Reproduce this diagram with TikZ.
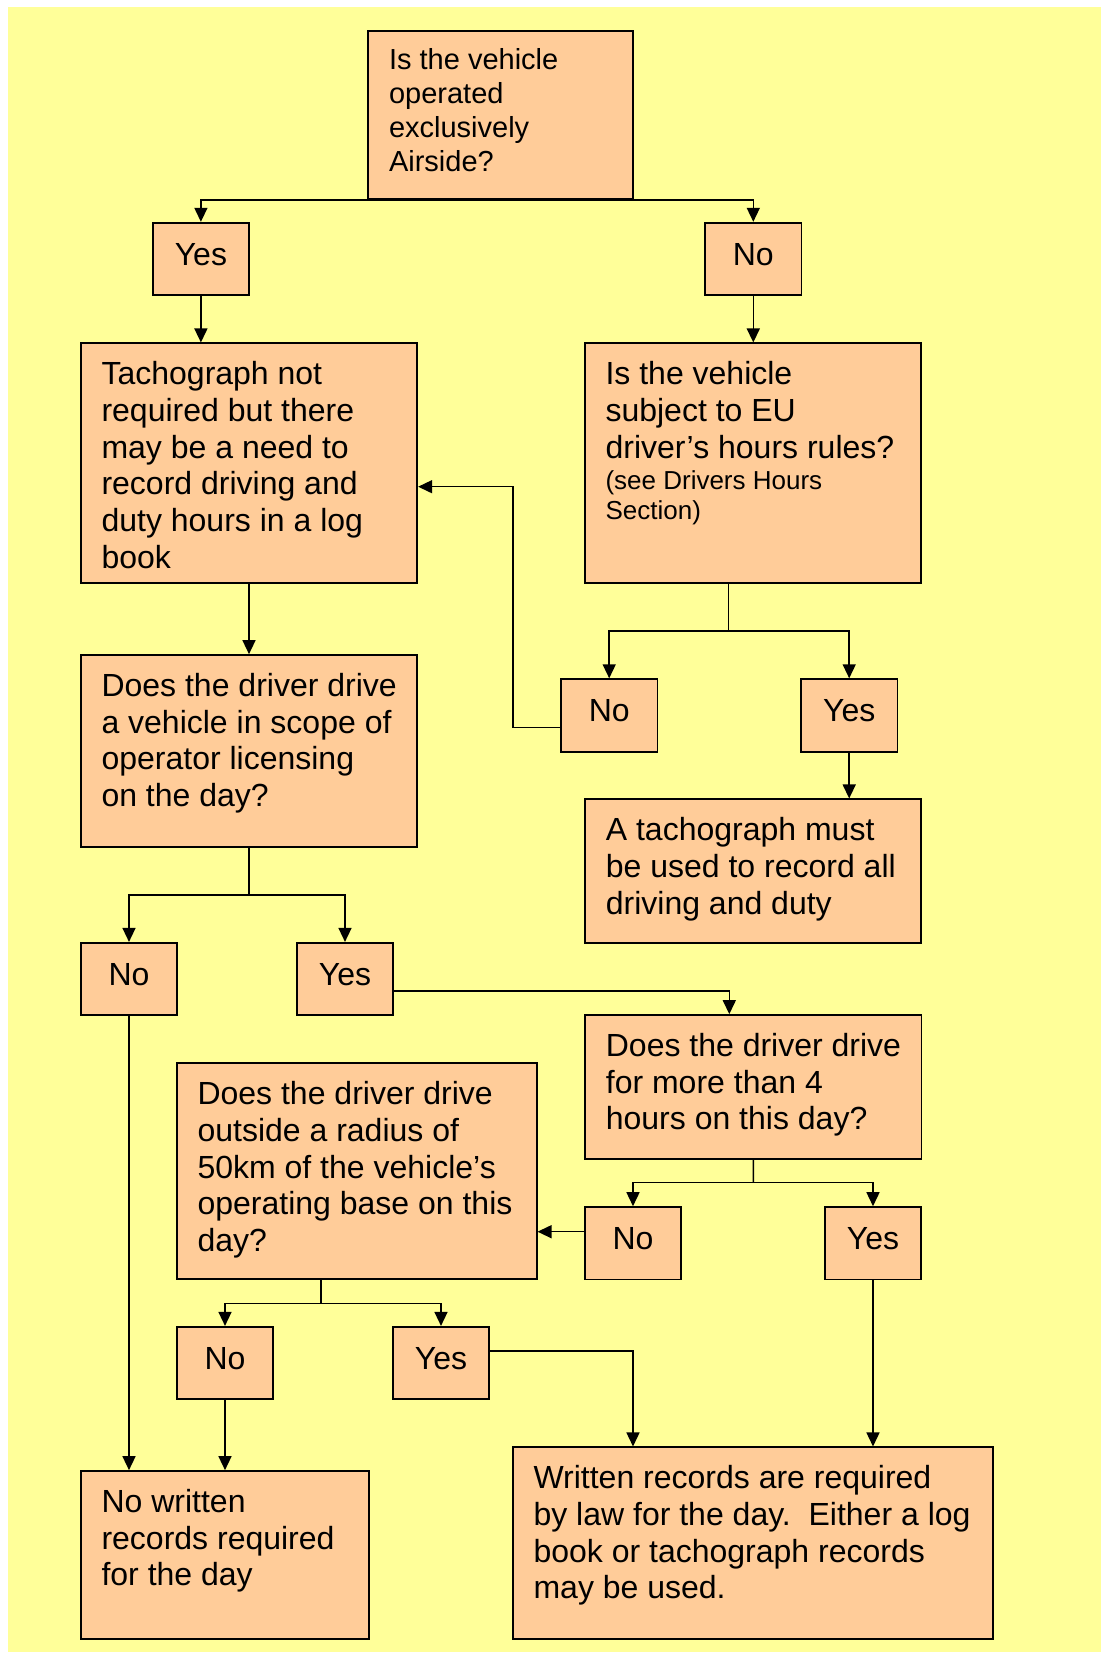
\documentclass[tikz,border=0pt]{standalone}
\usepackage{fontspec}
\setmainfont{Liberation Sans}
\usetikzlibrary{arrows.meta,fit,calc}
\definecolor{bgyellow}{RGB}{255,255,153}
\definecolor{boxorange}{RGB}{255,204,153}
% left-aligned block of lines whose baseline is the first line
\newcommand\lns[1]{\begin{tabular}[t]{@{}l@{}}#1\end{tabular}}

\begin{document}
\begin{tikzpicture}[x=1pt,y=-1pt,
  panel/.style={draw=black, fill=boxorange, line width=1.7pt, inner sep=0pt},
  answer/.style={panel, minimum width=96.5pt, minimum height=72.5pt,
    font=\fontsize{32}{36.7}\selectfont, text height=22pt, text depth=9.6pt},
  body/.style={anchor=base west, inner sep=0pt, font=\fontsize{32}{36.7}\selectfont},
  wire/.style={line width=1.5pt},
  flow/.style={wire, -{Triangle[length=14pt,width=13pt]}},
]
\useasboundingbox (0,0) rectangle (1101,1655);
\fill[bgyellow] (8,7) rectangle (1101,1652);

% question and outcome boxes
\node[panel, fit={(368.3,31) (633.2,199)}] (q1) {};
\node[panel, fit={(80.7,343.3) (417.3,583.3)}] (q4) {};
\node[panel, fit={(584.7,343.3) (921,583.3)}] (q5) {};
\node[panel, fit={(80.7,655) (417.3,847.3)}] (q6) {};
\node[panel, fit={(585,799.3) (921,943.3)}] (q9) {};
\node[panel, fit={(585,1015) (921.5,1159.3)}] (q12) {};
\node[panel, fit={(176.7,1063.3) (536.7,1279.3)}] (q13) {};
\node[panel, fit={(80.7,1471) (369,1639.3)}] (q18) {};
\node[panel, fit={(512.7,1447.3) (993.3,1639.3)}] (q19) {};

% texts of the boxes
\node[body, font=\fontsize{29}{34}\selectfont] (t1) at ($(q1.north west)+(21.4,39.3)$)
  {\lns{Is the vehicle\\operated\\exclusively\\Airside?}};
\node[body] (t4) at ($(q4.north west)+(21.5,42.4)$)
  {\lns{Tachograph not\\required but there\\may be a need to\\record driving and\\duty hours in a log\\book}};
\node[body] (t5) at ($(q5.north west)+(21.5,42.4)$)
  {\lns{Is the vehicle\\subject to EU\\driver’s hours rules?}};
\node[body, font=\fontsize{26}{30}\selectfont] (t5b) at ($(t5.base west)+(0,105)$)
  {\lns{(see Drivers Hours\\Section)}};
\node[body] (t6) at ($(q6.north west)+(21.5,42.4)$)
  {\lns{Does the driver drive\\a vehicle in scope of\\operator licensing\\on the day?}};
\node[body] (t9) at ($(q9.north west)+(21.5,42.4)$)
  {\lns{A tachograph must\\be used to record all\\driving and duty}};
\node[body] (t12) at ($(q12.north west)+(21.5,42.4)$)
  {\lns{Does the driver drive\\for more than 4\\hours on this day?}};
\node[body] (t13) at ($(q13.north west)+(21.5,42.4)$)
  {\lns{Does the driver drive\\outside a radius of\\50km of the vehicle’s\\operating base on this\\day?}};
\node[body] (t18) at ($(q18.north west)+(21.5,42.4)$)
  {\lns{No written\\records required\\for the day}};
\node[body] (t19) at ($(q19.north west)+(21.5,42.4)$)
  {\lns{Written records are required\\by law for the day.~~Either a log\\book or tachograph records\\may be used.}};

% answer boxes
\node[answer] (y1) at (200.9,258.9) {Yes};
\node[answer] (n1) at (753.3,258.9) {No};
\node[answer] (n2) at (609.2,715.4) {No};
\node[answer] (y2) at (849.2,715.4) {Yes};
\node[answer] (n3) at (129,979) {No};
\node[answer] (y3) at (345,979) {Yes};
\node[answer] (n4) at (633,1243.3) {No};
\node[answer] (y4) at (873,1243.3) {Yes};
\node[answer] (n5) at (225,1363) {No};
\node[answer] (y5) at (441,1363) {Yes};

% connectors
\draw[flow] (q1.south) -| (y1.north);
\draw[flow] (q1.south) -| (n1.north);
\draw[flow] (y1.south) -- (y1.south |- q4.north);
\draw[flow] (n1.south) -- (n1.south |- q5.north);
\draw[flow] (q4.south) -- (q6.north);

\coordinate (s5) at (728.7,631);
\draw[wire] (s5 |- q5.south) -- (s5);
\draw[flow] (s5) -| (n2.north);
\draw[flow] (s5) -| (y2.north);

\coordinate (k1) at (513,727.3);
\coordinate (k2) at (513,486.7);
\draw[flow] (n2.west |- k1) -- (k1) -- (k2) -- (k2 -| q4.east);
\draw[flow] (y2.south) -- (y2.south |- q9.north);

\coordinate (s6) at (249,895.1);
\draw[wire] (q6.south) -- (s6);
\draw[flow] (s6) -| (n3.north);
\draw[flow] (s6) -| (y3.north);

\coordinate (c3) at (729.3,991.2);
\draw[flow] (y3.east |- c3) -- (c3) -- (c3 |- q12.north);
\draw[flow] (n3.south) -- (n3.south |- q18.north);

\coordinate (s12) at (753.3,1182.7);
\draw[wire] (q12.south) -- (s12);
\draw[flow] (s12) -| (n4.north);
\draw[flow] (s12) -| (y4.north);

\coordinate (c4) at (560,1231.7);
\draw[flow] (n4.west |- c4) -- (q13.east |- c4);
\draw[flow] (y4.south) -- (y4.south |- q19.north);

\coordinate (s13) at (321,1303.3);
\draw[wire] (s13 |- q13.south) -- (s13);
\draw[flow] (s13) -| (n5.north);
\draw[flow] (s13) -| (y5.north);
\draw[flow] (n5.south) -- (n5.south |- q18.north);

\coordinate (c5) at (633,1351.2);
\draw[flow] (y5.east |- c5) -- (c5) -- (c5 |- q19.north);
\end{tikzpicture}
\end{document}
